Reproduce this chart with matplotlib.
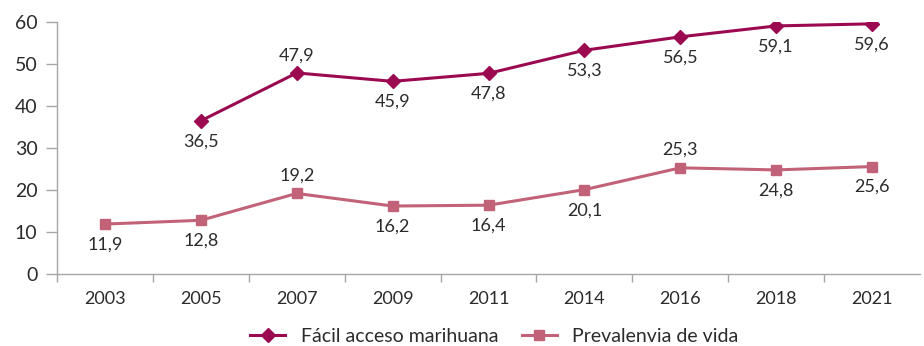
import matplotlib
matplotlib.use("Agg")
import matplotlib.pyplot as plt
from matplotlib.ticker import FixedLocator

years = ["2003", "2005", "2007", "2009", "2011", "2014", "2016", "2018", "2021"]
acceso = [None, 36.5, 47.9, 45.9, 47.8, 53.3, 56.5, 59.1, 59.6]
prevalencia = [11.9, 12.8, 19.2, 16.2, 16.4, 20.1, 25.3, 24.8, 25.6]
acceso_pos = ["below", "below", "above", "below", "below", "below", "below", "below", "below"]
prev_pos = ["below", "below", "above", "below", "below", "below", "above", "below", "below"]

c_acceso = "#9B0A50"
c_prev = "#C26278"
text_c = "#2B2B2B"
axis_c = "#A6A6A6"

plt.rcParams["font.family"] = ["Lato", "DejaVu Sans"]
plt.rcParams["font.weight"] = 400

fig = plt.figure(figsize=(9.24, 3.46), dpi=100)
ax = fig.add_axes([0.0617, 0.208, 0.934, 0.728])

x = list(range(len(years)))
xa = [i for i, v in zip(x, acceso) if v is not None]
ya = [v for v in acceso if v is not None]

ax.plot(xa, ya, color=c_acceso, lw=2.2, marker="D", ms=7, label="Fácil acceso marihuana", zorder=3)
ax.plot(x, prevalencia, color=c_prev, lw=2.2, marker="s", ms=7, label="Prevalenvia de vida", zorder=3)

def fmt(v):
    return f"{v:.1f}".replace(".", ",")

def label_series(values, positions):
    for xi, v, pos in zip(x, values, positions):
        if v is None:
            continue
        dy = 7 if pos == "above" else -9
        ax.annotate(fmt(v), (xi, v), xytext=(0, dy), textcoords="offset points",
                    ha="center", va="bottom" if pos == "above" else "top",
                    fontsize=13, color=text_c)

label_series(acceso, acceso_pos)
label_series(prevalencia, prev_pos)

ax.set_xlim(-0.5, len(years) - 0.5)
ax.set_ylim(0, 60)
ax.set_yticks(range(0, 61, 10))
ax.set_xticks(x)
ax.set_xticklabels(years)
ax.xaxis.set_minor_locator(FixedLocator([i - 0.5 for i in range(len(years))]))
ax.tick_params(axis="x", which="major", length=0, pad=12, labelsize=13, labelcolor=text_c)
ax.tick_params(axis="x", which="minor", length=6, color=axis_c, width=1)
ax.tick_params(axis="y", length=8, color=axis_c, width=1, labelsize=14, labelcolor=text_c, pad=6)

for s in ["top", "right"]:
    ax.spines[s].set_visible(False)
for s in ["left", "bottom"]:
    ax.spines[s].set_color(axis_c)
    ax.spines[s].set_linewidth(1)

fig.legend(loc="center", bbox_to_anchor=(0.535, 0.027), ncol=2, frameon=False,
           fontsize=14, handlelength=1.8, handletextpad=0.8, columnspacing=1.2,
           labelcolor=text_c)

fig.savefig("out.png", dpi=100)
